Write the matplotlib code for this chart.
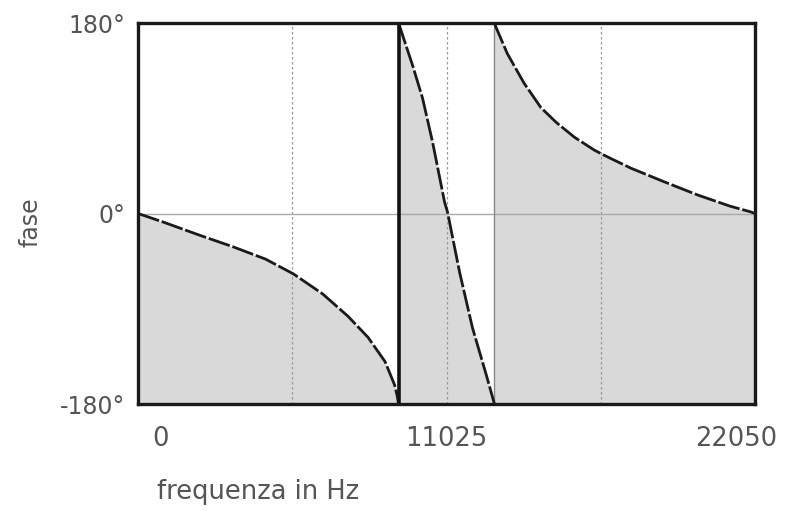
import matplotlib
matplotlib.use("Agg")
import matplotlib.pyplot as plt
import matplotlib.transforms as mtransforms

# --- data (frequency in Hz, phase in degrees) ---
freq_1 = [0, 892, 2200, 3400, 4550, 5550, 6600, 7500, 8220, 8830, 9170, 9260, 9313]
phase_1 = [0, -8, -20.5, -31.5, -43, -57, -76, -97, -117, -140, -162, -172, -180]

freq_2 = [9313, 9812, 10169, 10526, 10954, 11061, 11489, 11953, 12452, 12738]
phase_2 = [180, 140, 109, 67.6, 11, 1.4, -55, -108, -153, -180]

freq_3 = [12738, 12809, 13200, 13800, 14400, 14950, 15600, 16300, 16700, 17600,
          18800, 20000, 21150, 21900, 22050]
phase_3 = [180, 175, 151, 123, 100, 86, 72, 60, 54.5, 43, 30, 17.5, 7, 1.5, 0]

grid_freqs = [5512.5, 11025, 16537.5]
x_ticks = [0, 11025, 22050]
x_tick_labels = ["0", "11025", "22050"]
y_ticks = [-180, 0, 180]
y_tick_labels = ["-180°", "0°", "180°"]

text_color = "#555555"
fill_color = "#d9d9d9"

fig = plt.figure(figsize=(7.88, 5.11), dpi=100)
ax = fig.add_axes([138 / 788, 1 - 404 / 511, (755 - 138) / 788, (404 - 23) / 511])
ax.set_xlim(0, 22050)
ax.set_ylim(-180, 180)

# fills
for fx, py in [(freq_1, phase_1), (freq_2, phase_2), (freq_3, phase_3)]:
    ax.fill_between(fx, py, -180, color=fill_color, linewidth=0, zorder=1)

# grid
for g in grid_freqs:
    ax.axvline(g, color="#999999", linestyle=(0, (2, 2)), linewidth=0.9, zorder=2)
ax.axhline(0, color="#aaaaaa", linewidth=1.0, zorder=2)

# discontinuity edges
ax.axvline(freq_2[0], color="#111111", linewidth=2.6, zorder=4)
ax.axvline(freq_3[0], color="#888888", linewidth=1.0, zorder=2)

# curves
for fx, py in [(freq_1, phase_1), (freq_2, phase_2), (freq_3, phase_3)]:
    ax.plot(fx, py, color="#1a1a1a", linewidth=2.0, linestyle=(0, (8, 1)),
            solid_joinstyle="round", zorder=3)

for s in ax.spines.values():
    s.set_linewidth(2.4)
    s.set_color("#1a1a1a")
    s.set_zorder(5)

ax.set_xticks(x_ticks)
ax.set_xticklabels(x_tick_labels)
ax.set_yticks(y_ticks)
ax.set_yticklabels(y_tick_labels)
ax.tick_params(axis="x", length=0, colors=text_color, labelsize=18.5, pad=16)
ax.tick_params(axis="y", length=0, colors=text_color, labelsize=17, pad=9)

xl = ax.get_xticklabels()
xl[0].set_transform(xl[0].get_transform() + mtransforms.ScaledTranslation(0.23, 0, fig.dpi_scale_trans))
xl[2].set_transform(xl[2].get_transform() + mtransforms.ScaledTranslation(-0.19, 0, fig.dpi_scale_trans))

fig.text(31 / 788, 1 - 222 / 511, "fase", rotation=90, ha="center", va="center",
         fontsize=17, color=text_color)
fig.text(258 / 788, 1 - 492 / 511, "frequenza in Hz", ha="center", va="center",
         fontsize=18.5, color=text_color)

fig.savefig("out.png", dpi=100)
